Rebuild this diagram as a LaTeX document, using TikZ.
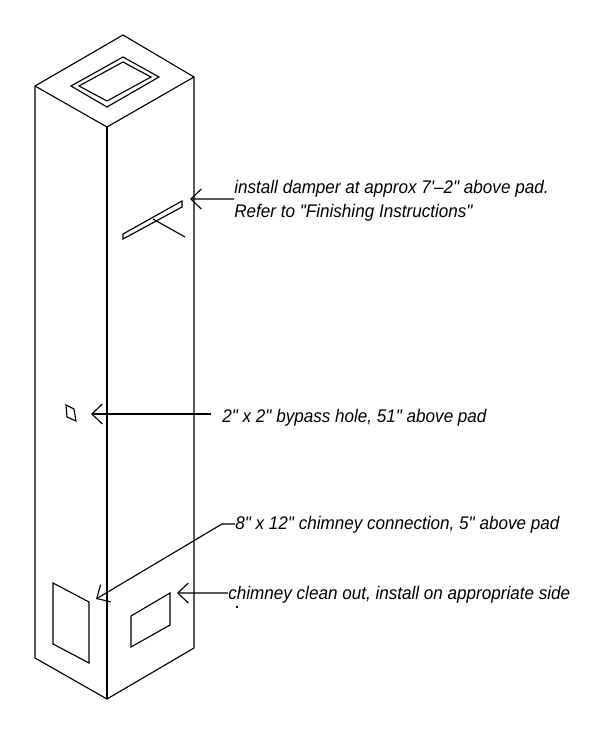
\documentclass[tikz,border=0pt]{standalone}
\usepackage{fontspec}
\usepackage{tikz}
\usetikzlibrary{arrows.meta}
\newfontfamily\cadfont[ItalicFont=* Italic,FakeStretch=0.935]{Liberation Sans}
\tikzset{
  outline/.style={draw=black,line width=0.65pt,line join=miter},
  leader/.style={draw=black,line width=0.65pt,-{Straight Barb[length=0.21cm,width=0.4cm,line width=0.65pt]}},
  note/.style={anchor=west,inner sep=0pt,align=left,text=black,font=\cadfont\itshape\fontsize{10.4}{13.6}\selectfont}
}

\begin{document}
\begin{tikzpicture}[x=0.02cm,y=-0.02cm]
  \useasboundingbox (0,0) rectangle (600,734);

  \coordinate (apex) at (123,35);
  \coordinate (backright) at (194,77);
  \coordinate (backleft) at (35,86);
  \coordinate (front) at (107,127);
  \coordinate (baseleft) at (35,658);
  \coordinate (basefront) at (107,699);
  \coordinate (baseright) at (194,648);

  \draw[outline] (apex) -- (backright) -- (front) -- (backleft) -- cycle;
  \draw[outline] (backleft) -- (baseleft) -- (basefront) -- (baseright) -- (backright);
  \draw[outline] (front) -- (basefront);

  \draw[outline] (123,57) -- (159,77) -- (107,107) -- (71,86) -- cycle;
  \draw[outline] (123,62) -- (151,77) -- (107,101) -- (79,86) -- cycle;

  \draw[outline] (123,234) -- (123,239) -- (182,207) -- (182,201) -- cycle;
  \draw[outline] (153,219) -- (185,237);

  \draw[outline] (66,405) -- (74,409) -- (76,421) -- (67,417) -- cycle;

  \draw[outline] (53,583) -- (89,602) -- (89,663) -- (53,644) -- cycle;
  \draw[outline] (131,616) -- (170,593) -- (170,625) -- (131,647) -- cycle;

  \node[note] (dampernote) at (234,201) {install damper at approx 7'–2" above pad.\\Refer to "Finishing Instructions"};
  \node[note] (bypassnote) at (222,418) {2" x 2" bypass hole, 51" above pad};
  \node[note] (connectnote) at (235,525) {8" x 12" chimney connection, 5" above pad};
  \node[note] (cleannote) at (228,595) {chimney clean out, install on appropriate side};

  \coordinate (dampertip) at (190,199);
  \coordinate (bypasstail) at (211,414);
  \coordinate (bypasstip) at (91,414);
  \coordinate (connectbend) at (222,524);
  \coordinate (connecttip) at (96,599);
  \coordinate (cleantip) at (177,593);

  \draw[leader] ([yshift=1.13pt]dampernote.west) -- (dampertip);
  \draw[leader] (bypasstail) -- (bypasstip);
  \draw[leader] ([yshift=0.57pt]connectnote.west) -- (connectbend) -- (connecttip);
  \draw[leader] ([yshift=1.13pt]cleannote.west) -- (cleantip);

  \draw[outline] (236,607) -- (238,607);
\end{tikzpicture}
\end{document}
